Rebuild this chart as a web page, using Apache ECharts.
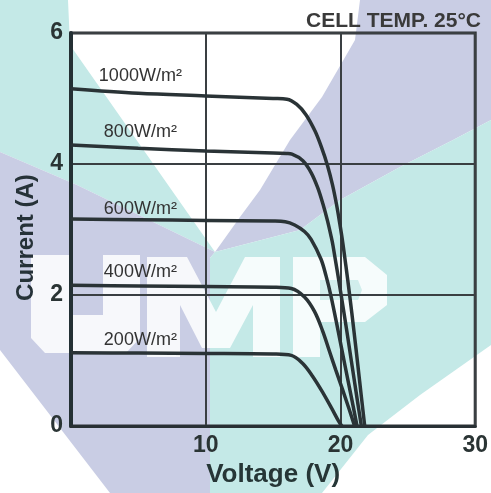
<!DOCTYPE html>
<html>
<head>
<meta charset="utf-8">
<script src="https://cdn.jsdelivr.net/npm/echarts@6/dist/echarts.min.js"></script>
<style>
html,body{margin:0;padding:0;background:#ffffff;}
#chart{width:491px;height:493px;}
</style>
</head>
<body>
<div id="chart"></div>
<script>
// ---- data ----
const seriesNames = ['1000W/m²', '800W/m²', '600W/m²', '400W/m²', '200W/m²'];

const volts1000 = [0, 5, 10, 15, 16.03, 16.76, 17.45, 18.12, 18.6, 19.02, 19.4, 19.7, 19.95, 20.17, 20.4, 20.68, 21.0, 21.3, 21.55, 21.8];
const amps1000  = [5.15, 5.08, 5.04, 5.00, 4.99, 4.91, 4.75, 4.50, 4.25, 3.99, 3.69, 3.39, 3.09, 2.80, 2.45, 2.0, 1.45, 0.91, 0.45, 0];

const volts800 = [0, 5, 10, 15, 16.0, 16.4, 17.21, 17.82, 18.31, 18.7, 19.03, 19.3, 19.45, 20.05, 20.47, 20.87, 21.21, 21.55];
const amps800  = [4.29, 4.24, 4.20, 4.17, 4.16, 4.15, 4.05, 3.87, 3.64, 3.39, 3.14, 2.90, 2.75, 2.0, 1.45, 0.91, 0.45, 0];

const volts600 = [0, 5, 10, 15.0, 15.9, 16.6, 17.33, 17.82, 18.55, 18.92, 19.28, 19.83, 20.35, 20.8, 21.23];
const amps600  = [3.16, 3.15, 3.14, 3.13, 3.12, 3.07, 2.97, 2.85, 2.55, 2.3, 2.0, 1.45, 0.91, 0.45, 0];

const volts400 = [0, 5, 10, 15, 16.35, 17.33, 18.07, 18.68, 19.17, 19.66, 20.15, 20.64, 21.05];
const amps400  = [2.15, 2.14, 2.13, 2.12, 2.10, 1.97, 1.75, 1.45, 1.15, 0.85, 0.56, 0.26, 0];

const volts200 = [0, 5, 10, 15, 16.35, 17.2, 17.94, 18.7, 19.35, 19.85, 20.1];
const amps200  = [1.12, 1.115, 1.11, 1.10, 1.08, 0.955, 0.757, 0.507, 0.27, 0.08, 0];

const labelVoltage = 5;              // the data point that carries each curve's label
const xTicks = [0, 10, 20, 30];
const yTicks = [0, 2, 4, 6];
const titleText = 'CELL TEMP. 25°C';
const xName = 'Voltage (V)';
const yName = 'Current (A)';

// ---- chart ----
const LINE = '#2a3336';
const labelDist = [8, 7, 1.5, 5, 4];
const curves = [
  [volts1000, amps1000],
  [volts800, amps800],
  [volts600, amps600],
  [volts400, amps400],
  [volts200, amps200]
];

const series = curves.map(function (c, k) {
  const data = c[0].map(function (v, i) {
    const item = { value: [v, c[1][i]] };
    if (v === labelVoltage) {
      item.label = {
        show: true,
        position: 'top',
        distance: labelDist[k],
        offset: [2, 0],
        formatter: seriesNames[k],
        color: '#333333',
        fontFamily: 'Liberation Sans',
        fontSize: 18
      };
    }
    return item;
  });
  return {
    name: seriesNames[k],
    type: 'line',
    data: data,
    smooth: 0.35,
    showSymbol: true,
    symbol: 'circle',
    symbolSize: 0.01,
    itemStyle: { color: 'rgba(0,0,0,0)' },
    lineStyle: { color: LINE, width: 3.5 },
    label: { show: false },
    emphasis: { disabled: true },
    z: 5
  };
});

const TEAL = '#c4e9e7';
const PURPLE = '#c9cde4';
function poly(points, fill, z, opacity) {
  return { type: 'polygon', z: z, silent: true, shape: { points: points },
           style: { fill: fill, opacity: opacity == null ? 1 : opacity } };
}
const watermark = [
  poly([[0,0],[68,0],[70,45],[215,252],[77,185],[0,152]], TEAL, -20),
  poly([[360,0],[491,0],[491,120],[453,140],[400,167],[340,200],[300,230],[215,252],[240,217],[260,190],[290,140],[322,97],[355,40]], PURPLE, -20),
  poly([[0,152],[77,185],[215,252],[210,258],[210,493],[110,493],[0,350]], PURPLE, -20),
  poly([[215,252],[300,230],[340,200],[400,167],[453,140],[491,120],[491,345],[420,395],[368,435],[322,493],[210,493],[210,258]], TEAL, -20),
  // U
  poly([[31,255],[70,255],[70,315],[103,315],[103,255],[140,255],[140,338],[126,353],[45,353],[31,338]], '#ffffff', -15, 0.85),
  // M
  poly([[147,257],[187,257],[216,312],[245,257],[280,257],[280,357],[253,357],[253,305],[230,348],[202,348],[180,305],[180,357],[147,357]], '#ffffff', -15, 0.85),
  // P
  poly([[293,257],[365,257],[387,275],[387,305],[365,322],[320,322],[320,357],[293,357]], '#ffffff', -15, 0.85),
  poly([[320,280],[358,280],[362,290],[358,300],[320,300]], TEAL, -14, 0.75),
  // title text
  { type: 'text', z: 10, right: 10, top: 11,
    style: { text: titleText, fill: '#3a3a3a', font: 'bold 21px "Liberation Sans"' } }
];

const chart = echarts.init(document.getElementById('chart'), null, { renderer: 'canvas' });
chart.setOption({
  animation: false,
  backgroundColor: '#ffffff',
  graphic: { elements: watermark },
  grid: {
    left: 71, right: 13, top: 33, bottom: 59,
    show: true, borderColor: '#2f3336', borderWidth: 3,
    backgroundColor: 'rgba(0,0,0,0)'
  },
  xAxis: {
    type: 'value', min: xTicks[0], max: xTicks[xTicks.length - 1], interval: 10,
    name: xName, nameLocation: 'middle', nameGap: 27,
    nameTextStyle: { fontFamily: 'Liberation Sans', fontWeight: 'bold', fontSize: 26, color: '#263636' },
    axisLine: { show: true, lineStyle: { color: '#283034', width: 3 } },
    axisTick: { show: false },
    axisLabel: { margin: 8, showMinLabel: false, fontFamily: 'Liberation Sans', fontWeight: 'bold', fontSize: 23, color: '#2a3434' },
    splitLine: { show: true, lineStyle: { color: '#3a3f42', width: 2 } }
  },
  yAxis: {
    type: 'value', min: yTicks[0], max: yTicks[yTicks.length - 1], interval: 2,
    name: yName, nameLocation: 'middle', nameGap: 33,
    nameTextStyle: { fontFamily: 'Liberation Sans', fontWeight: 'bold', fontSize: 24, color: '#263238', padding: [0, 16, 0, 0] },
    axisLine: { show: true, lineStyle: { color: '#243034', width: 4 } },
    axisTick: { show: false },
    axisLabel: { margin: 8, fontFamily: 'Liberation Sans', fontWeight: 'bold', fontSize: 23, color: '#2a3434' },
    splitLine: { show: true, lineStyle: { color: '#3a3f42', width: 2 } }
  },
  series: series
});
</script>
</body>
</html>
